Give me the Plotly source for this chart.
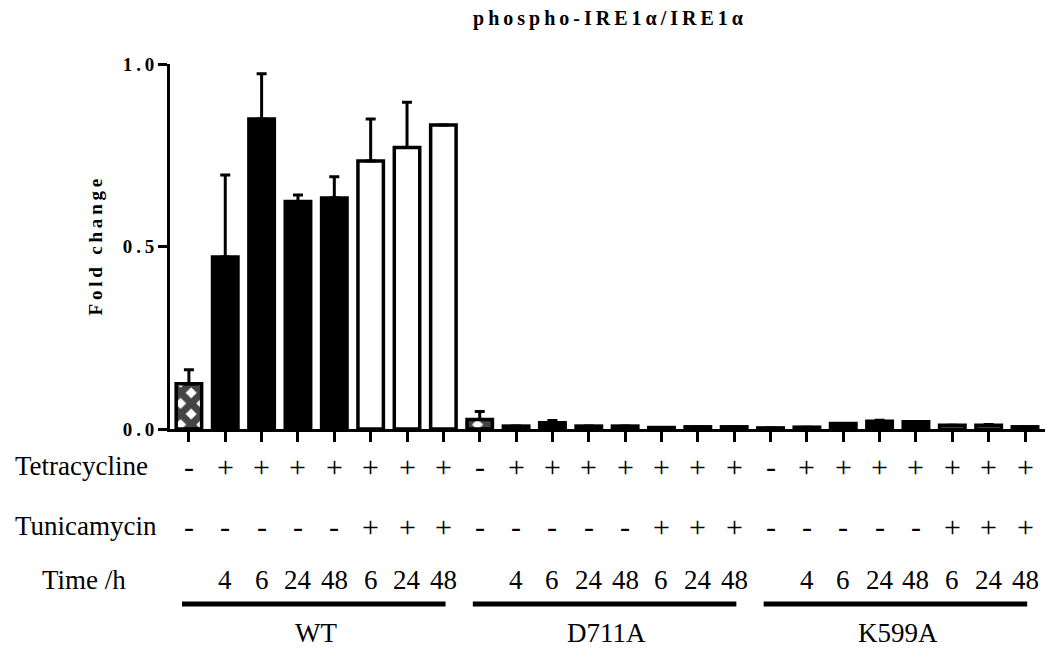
import plotly.graph_objects as go

# ---------------- data ----------------
groups = ["WT", "D711A", "K599A"]

wt_values = [0.124, 0.471, 0.849, 0.623, 0.633, 0.734, 0.771, 0.833]
wt_errors = [0.038, 0.225, 0.124, 0.018, 0.058, 0.115, 0.124, None]

d711a_values = [0.026, 0.008, 0.017, 0.008, 0.008, 0.004, 0.006, 0.006]
d711a_errors = [0.022, None, 0.006, None, None, None, None, None]

k599a_values = [0.003, 0.005, 0.015, 0.021, 0.020, 0.010, 0.010, 0.006]
k599a_errors = [None, None, None, 0.003, None, None, 0.002, None]

tetracycline = ["-", "+", "+", "+", "+", "+", "+", "+"]
tunicamycin = ["-", "-", "-", "-", "-", "+", "+", "+"]
time_h = ["", "4", "6", "24", "48", "6", "24", "48"]
fill_style = ["hatch", "black", "black", "black", "black", "white", "white", "white"]

title_text = "phospho-IRE1α/IRE1α"
y_title = "Fold change"
row_names = ["Tetracycline", "Tunicamycin", "Time /h"]
y_ticks = [0.0, 0.5, 1.0]

# ---------------- build ----------------
values = wt_values + d711a_values + k599a_values
errors = wt_errors + d711a_errors + k599a_errors
n_per = len(wt_values)
n = len(values)
x = list(range(n))
styles = fill_style * len(groups)

colors = ["white" if s in ("hatch", "white") else "black" for s in styles]
shapes = ["x" if s == "hatch" else "" for s in styles]


def spaced(s, sep="\u2009"):
    return sep.join(list(s))


SERIF = "'Times New Roman', 'Liberation Serif', serif"

fig = go.Figure()
fig.add_trace(go.Bar(
    x=x, y=values, width=0.7,
    marker=dict(
        color=colors,
        line=dict(color="black", width=3.5),
        pattern=dict(shape=shapes, fgcolor="black", fgopacity=1, fillmode="overlay",
                     size=15, solidity=0.72),
    ),
    error_y=dict(type="data", array=errors, arrayminus=[0] * n,
                 symmetric=False, color="black", thickness=3, width=5),
    showlegend=False,
    hoverinfo="skip",
))

fig.update_layout(
    width=1047, height=648,
    margin=dict(l=170, r=2, t=64, b=219),
    paper_bgcolor="white", plot_bgcolor="white",
    font=dict(family=SERIF, color="black"),
    bargap=0.3,
    xaxis=dict(
        range=[-0.52, n - 0.45],
        tickmode="array", tickvals=x, showticklabels=False,
        ticks="outside", ticklen=10, tickwidth=3, tickcolor="black",
        showline=True, linewidth=3, linecolor="black",
        showgrid=False, zeroline=False, fixedrange=True,
    ),
    yaxis=dict(
        range=[0, 1.0],
        tickmode="array", tickvals=y_ticks,
        ticktext=[spaced(f"{v:.1f}") for v in y_ticks],
        tickfont=dict(family=SERIF, size=19, color="black", weight="bold"),
        ticks="outside", ticklen=9, tickwidth=3, tickcolor="black",
        showline=True, linewidth=3, linecolor="black",
        showgrid=False, zeroline=False, fixedrange=True,
    ),
)

ann = []
# title
ann.append(dict(text=spaced(title_text), xref="paper", yref="paper", x=0.5, y=1.126,
                xanchor="center", yanchor="middle", showarrow=False,
                font=dict(family=SERIF, size=20, color="black", weight="bold")))
# y axis title
ann.append(dict(text=spaced(y_title), xref="paper", yref="paper", x=-0.0846, y=0.5,
                textangle=-90, xanchor="center", yanchor="middle", showarrow=False,
                font=dict(family=SERIF, size=19, color="black", weight="bold")))

row_y = [-0.1014, -0.2658, -0.4137]
row_x = [-0.1794, -0.1794, -0.1486]
for name, ry, rx in zip(row_names, row_y, row_x):
    ann.append(dict(text=name, xref="paper", yref="paper", x=rx, y=ry,
                    xanchor="left", yanchor="middle", showarrow=False,
                    font=dict(family=SERIF, size=27, color="black", weight="normal")))

rows = [tetracycline, tunicamycin, time_h]
row_font = [30, 30, 27]
for gi in range(len(groups)):
    for j in range(n_per):
        xi = gi * n_per + j
        for ri, row in enumerate(rows):
            label = row[j]
            if not label:
                continue
            ann.append(dict(text=label, xref="x", yref="paper", x=xi, y=row_y[ri],
                            xanchor="center", yanchor="middle", showarrow=False,
                            font=dict(family=SERIF, size=row_font[ri], color="black",
                                      weight="normal")))
    # group label
    first = gi * n_per
    last = first + n_per - 1
    ann.append(dict(text=groups[gi], xref="x", yref="paper", x=(first + last) / 2,
                    y=-0.5589, xanchor="center", yanchor="middle", showarrow=False,
                    font=dict(family=SERIF, size=27, color="black", weight="normal")))
    fig.add_shape(type="line", xref="x", yref="paper",
                  x0=first - 0.19, x1=last + 0.06, y0=-0.4795, y1=-0.4795,
                  line=dict(color="black", width=5))

fig.update_layout(annotations=ann)
fig.write_html("out.html")
